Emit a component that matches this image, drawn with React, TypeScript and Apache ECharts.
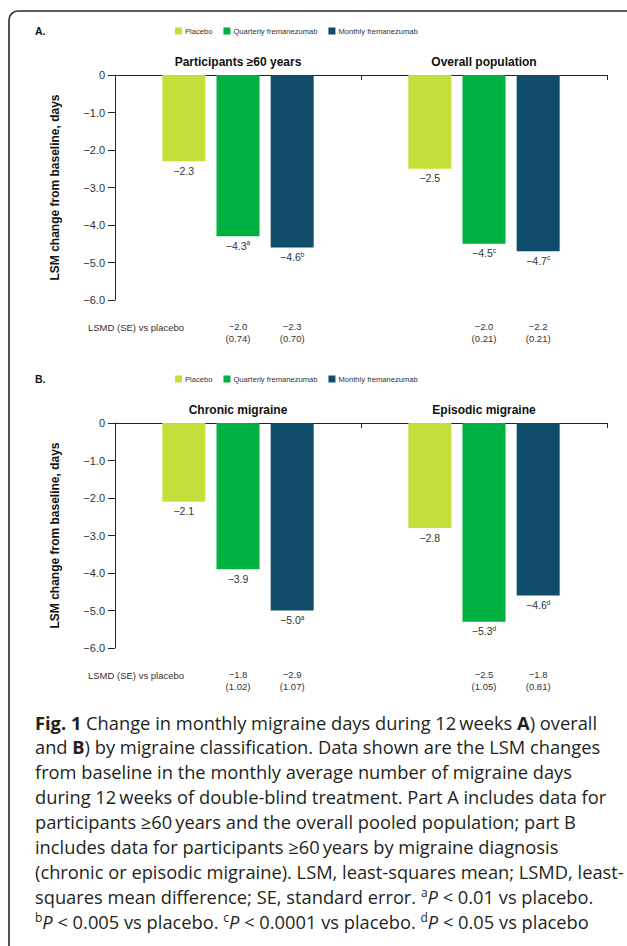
import React, { useEffect, useRef } from "react";
import * as echarts from "echarts";

// ---------- Data ----------
const seriesNames = ["Placebo", "Quarterly fremanezumab", "Monthly fremanezumab"];
const seriesColors = ["#C4DE3A", "#00B040", "#0F4D6B"];

// Panel A
const panelACategories = ["Participants \u226560 years", "Overall population"];
const panelAPlacebo = [-2.3, -2.5];
const panelAQuarterly = [-4.3, -4.5];
const panelAMonthly = [-4.6, -4.7];
const panelAPlaceboSup = ["", ""];
const panelAQuarterlySup = ["a", "c"];
const panelAMonthlySup = ["b", "c"];
const panelALsmdQuarterly = [-2.0, -2.0];
const panelASeQuarterly = ["0.74", "0.21"];
const panelALsmdMonthly = [-2.3, -2.2];
const panelASeMonthly = ["0.70", "0.21"];

// Panel B
const panelBCategories = ["Chronic migraine", "Episodic migraine"];
const panelBPlacebo = [-2.1, -2.8];
const panelBQuarterly = [-3.9, -5.3];
const panelBMonthly = [-5.0, -4.6];
const panelBPlaceboSup = ["", ""];
const panelBQuarterlySup = ["", "d"];
const panelBMonthlySup = ["a", "d"];
const panelBLsmdQuarterly = [-1.8, -2.5];
const panelBSeQuarterly = ["1.02", "1.05"];
const panelBLsmdMonthly = [-2.9, -1.8];
const panelBSeMonthly = ["1.07", "0.81"];

const yTicks = { min: -6, max: 0, interval: 1 };
const yAxisTitle = "LSM change from baseline, days";
const lsmdRowLabel = "LSMD (SE) vs placebo";

const captionLines = [
  "{b|Fig. 1} Change in monthly migraine days during 12\u2009weeks {b|A}) overall",
  "and {b|B}) by migraine classification. Data shown are the LSM changes",
  "from baseline in the monthly average number of migraine days",
  "during 12\u2009weeks of double-blind treatment. Part A includes data for",
  "participants \u226560\u2009years and the overall pooled population; part B",
  "includes data for participants \u226560\u2009years by migraine diagnosis",
  "(chronic or episodic migraine). LSM, least-squares mean; LSMD, least-",
  "squares mean difference; SE, standard error. {s|a}{i|P} < 0.01 vs placebo.",
  "{s|b}{i|P} < 0.005 vs placebo. {s|c}{i|P} < 0.0001 vs placebo. {s|d}{i|P} < 0.05 vs placebo",
];

// ---------- Helpers ----------
const SANS = "Liberation Sans, Arial, Helvetica, sans-serif";
const CAP = "Open Sans, Noto Sans, sans-serif";
const CAP_SIZE = 18.3;
const fmt = (v: number) => (v < 0 ? "\u2212" : "") + Math.abs(v).toFixed(1);

function barSeries(idx: number, values: number[], sups: string[], axis: number) {
  return {
    type: "bar",
    name: seriesNames[idx],
    xAxisIndex: axis,
    yAxisIndex: axis,
    barWidth: 43,
    barGap: "26%",
    itemStyle: { color: seriesColors[idx] },
    data: values,
    label: {
      show: true,
      position: "bottom",
      distance: 3,
      formatter: (p: any) =>
        `{v|${fmt(p.value)}}` + (sups[p.dataIndex] ? `{s|${sups[p.dataIndex]}}` : ""),
      rich: {
        v: { fontSize: 10.5, fontFamily: SANS, color: "#333", lineHeight: 13 },
        s: { fontSize: 6.5, fontFamily: SANS, color: "#333", lineHeight: 7, verticalAlign: "top" },
      },
    },
  };
}

function makeGrid(top: number) {
  return { left: 115, top, width: 492, height: 225, outerBoundsMode: "none" };
}

function makeXAxis(idx: number, cats: string[]) {
  return {
    type: "category",
    gridIndex: idx,
    data: cats,
    position: "top",
    axisLine: { show: true, onZero: false, lineStyle: { color: "#222", width: 1 } },
    axisTick: { show: true, inside: true, length: 5, interval: 0, lineStyle: { color: "#222" } },
    axisLabel: {
      show: true,
      interval: 0,
      margin: 7,
      fontSize: 12,
      fontWeight: "bold",
      fontFamily: SANS,
      color: "#111",
    },
  };
}

function makeYAxis(idx: number) {
  return {
    type: "value",
    gridIndex: idx,
    min: yTicks.min,
    max: yTicks.max,
    interval: yTicks.interval,
    name: yAxisTitle,
    nameLocation: "middle",
    nameRotate: 90,
    nameGap: 54,
    nameTextStyle: { fontSize: 12, fontWeight: "bold", fontFamily: SANS, color: "#111" },
    axisLine: { show: true, onZero: false, lineStyle: { color: "#222", width: 1 } },
    axisTick: { show: true, length: 7, lineStyle: { color: "#222" } },
    splitLine: { show: false },
    axisLabel: {
      margin: 10,
      fontSize: 11,
      fontFamily: SANS,
      color: "#333",
      formatter: (v: number) => (v === 0 ? "0" : fmt(v)),
    },
  };
}

function makeLegend(top: number) {
  return {
    top,
    left: 175,
    padding: 0,
    icon: "rect",
    itemWidth: 7,
    itemHeight: 7,
    itemGap: 11,
    selectedMode: false,
    data: seriesNames,
    textStyle: { fontSize: 7.6, fontFamily: SANS, color: "#333", padding: [0, 0, 0, -2] },
  };
}

export default function App() {
  const ref = useRef<HTMLDivElement>(null);

  useEffect(() => {
    if (!ref.current) return;
    const chart = echarts.init(ref.current, null, { renderer: "svg", width: 627, height: 946 });

    const option: any = {
      animation: false,
      backgroundColor: "#ffffff",
      legend: [makeLegend(27), makeLegend(375)],
      grid: [makeGrid(75), makeGrid(423)],
      xAxis: [makeXAxis(0, panelACategories), makeXAxis(1, panelBCategories)],
      yAxis: [makeYAxis(0), makeYAxis(1)],
      series: [
        barSeries(0, panelAPlacebo, panelAPlaceboSup, 0),
        barSeries(1, panelAQuarterly, panelAQuarterlySup, 0),
        barSeries(2, panelAMonthly, panelAMonthlySup, 0),
        barSeries(0, panelBPlacebo, panelBPlaceboSup, 1),
        barSeries(1, panelBQuarterly, panelBQuarterlySup, 1),
        barSeries(2, panelBMonthly, panelBMonthlySup, 1),
      ],
    };
    chart.setOption(option);

    const graphics: any[] = [];
    // frame
    graphics.push({
      type: "rect",
      z: 0,
      silent: true,
      shape: { x: 9, y: 11, width: 700, height: 1000, r: [9, 0, 0, 0] },
      style: { fill: "none", stroke: "#2a2a2a", lineWidth: 1.6 },
    });
    // panel letters
    [["A.", 31], ["B.", 379]].forEach(([t, y]) => {
      graphics.push({
        type: "text",
        x: 35,
        y: y as number,
        style: {
          text: t as string,
          fontSize: 10.5,
          fontWeight: "bold",
          fontFamily: SANS,
          fill: "#111",
          verticalAlign: "middle",
        },
      });
    });

    // LSMD rows, positioned from the bar layouts
    const model: any = (chart as any).getModel();
    const lsmdPanels = [
      { seriesQ: 1, seriesM: 2, lq: panelALsmdQuarterly, sq: panelASeQuarterly, lm: panelALsmdMonthly, sm: panelASeMonthly, gridBottom: 300 },
      { seriesQ: 4, seriesM: 5, lq: panelBLsmdQuarterly, sq: panelBSeQuarterly, lm: panelBLsmdMonthly, sm: panelBSeMonthly, gridBottom: 648 },
    ];
    lsmdPanels.forEach((pn) => {
      const rowY = pn.gridBottom + 27;
      graphics.push({
        type: "text",
        x: 88,
        y: rowY,
        style: { text: lsmdRowLabel, fontSize: 9.5, fontFamily: SANS, fill: "#333", verticalAlign: "middle" },
      });
      const pairs: [number, number[], string[]][] = [
        [pn.seriesQ, pn.lq, pn.sq],
        [pn.seriesM, pn.lm, pn.sm],
      ];
      pairs.forEach(([si, vals, ses]) => {
        const data = model.getSeriesByIndex(si).getData();
        vals.forEach((v, j) => {
          const lay = data.getItemLayout(j);
          const cx = lay.x + lay.width / 2;
          graphics.push({
            type: "text",
            x: cx,
            y: rowY - 6,
            style: {
              text: fmt(v) + "\n(" + ses[j] + ")",
              fontSize: 9.5,
              lineHeight: 11.5,
              fontFamily: SANS,
              fill: "#333",
              align: "center",
              verticalAlign: "top",
            },
          });
        });
      });
    });

    // caption
    const capRich = {
      b: { fontSize: CAP_SIZE, fontFamily: CAP, fontWeight: "bold", fill: "#231f20", lineHeight: 20 },
      i: { fontSize: CAP_SIZE, fontFamily: CAP, fontStyle: "italic", fill: "#231f20", lineHeight: 20 },
      s: { fontSize: 12, fontFamily: CAP, fill: "#231f20", lineHeight: 12, verticalAlign: "top" },
    };
    captionLines.forEach((line, k) => {
      graphics.push({
        type: "text",
        x: 35,
        y: 722 + 24.9 * k,
        style: {
          text: line,
          fontSize: CAP_SIZE,
          fontFamily: CAP,
          fill: "#231f20",
          lineHeight: 20,
          verticalAlign: "middle",
          rich: capRich,
        },
      });
    });

    chart.setOption({ graphic: graphics });

    return () => chart.dispose();
  }, []);

  return (
    <div
      ref={ref}
      style={{ position: "absolute", left: 0, top: 0, width: 627, height: 946, background: "#fff" }}
    />
  );
}
